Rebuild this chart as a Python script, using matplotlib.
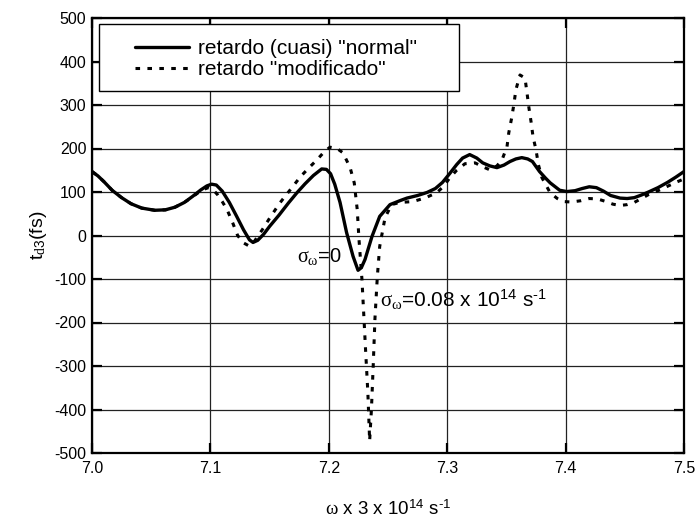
import matplotlib
matplotlib.use("Agg")
import matplotlib.pyplot as plt
from matplotlib.patches import Rectangle

plt.rcParams['font.family'] = ['Liberation Sans', 'DejaVu Sans']
plt.rcParams['mathtext.fontset'] = 'custom'
plt.rcParams['mathtext.rm'] = 'Liberation Sans'
plt.rcParams['mathtext.it'] = 'Liberation Serif'
plt.rcParams['mathtext.bf'] = 'Liberation Sans:bold'
plt.rcParams['axes.unicode_minus'] = False

# ---- data ----
x_normal = [7.000, 7.005, 7.010, 7.017, 7.025, 7.033, 7.042, 7.053, 7.062, 7.070,
            7.078, 7.085, 7.092, 7.097, 7.101, 7.105, 7.110, 7.116, 7.122, 7.128,
            7.133, 7.136, 7.140, 7.145, 7.150, 7.158, 7.166, 7.173, 7.180, 7.187,
            7.194, 7.198, 7.2015, 7.205, 7.2095, 7.215, 7.2205, 7.2247, 7.2275, 7.2306,
            7.2365, 7.243, 7.2517, 7.260, 7.266, 7.275, 7.283, 7.290, 7.296, 7.302,
            7.308, 7.313, 7.319, 7.325, 7.330, 7.336, 7.342, 7.348, 7.353, 7.358,
            7.363, 7.368, 7.372, 7.378, 7.383, 7.387, 7.395, 7.401, 7.408, 7.414,
            7.420, 7.426, 7.432, 7.438, 7.446, 7.452, 7.458, 7.464, 7.470, 7.478,
            7.486, 7.493, 7.500]
y_normal = [147, 137, 124, 104, 87, 73, 63, 58, 59, 65,
            76, 90, 105, 114, 118, 116, 102, 76, 45, 13,
            -10, -16, -11, 3, 21, 47, 75, 98, 119, 138,
            153, 152, 142, 118, 76, 7, -48, -80, -74, -55,
            -2, 44, 71, 80, 86, 92, 99, 108, 122, 142,
            163, 178, 186, 178, 167, 160, 156, 162, 170, 176,
            179, 176, 170, 147, 132, 121, 104, 101, 103, 108,
            112, 110, 102, 92, 86, 85, 87, 93, 100, 110,
            122, 134, 147]

x_mod = [7.000, 7.005, 7.010, 7.017, 7.025, 7.033, 7.042, 7.053, 7.062, 7.070,
         7.078, 7.085, 7.092, 7.098, 7.102, 7.106, 7.110, 7.114, 7.119, 7.123,
         7.128, 7.1326, 7.137, 7.144, 7.151, 7.159, 7.168, 7.176, 7.183, 7.190,
         7.196, 7.201, 7.207, 7.212, 7.218, 7.2215, 7.224, 7.2255, 7.228, 7.2295,
         7.231, 7.233, 7.2345, 7.236, 7.2375, 7.239, 7.241, 7.243, 7.2475, 7.253,
         7.260, 7.271, 7.281, 7.291, 7.297, 7.302, 7.308, 7.315, 7.3235, 7.330,
         7.336, 7.342, 7.3463, 7.3505, 7.352, 7.3545, 7.3565, 7.358, 7.3615, 7.3657,
         7.3674, 7.369, 7.3708, 7.3725, 7.375, 7.377, 7.380, 7.387, 7.393, 7.398,
         7.405, 7.413, 7.420, 7.427, 7.433, 7.440, 7.446, 7.452, 7.458, 7.464,
         7.470, 7.478, 7.486, 7.493, 7.500]
y_mod = [147, 137, 124, 104, 87, 73, 63, 58, 59, 65,
         76, 89, 103, 110, 106, 94, 78, 60, 28, 0,
         -17, -24, -14, 14, 44, 76, 107, 135, 155, 174,
         192, 203, 200, 190, 156, 121, 60, -9, -101, -180,
         -260, -362, -472, -400, -300, -190, -94, -25, 41, 71,
         76, 78, 86, 98, 113, 132, 150, 165, 167, 158,
         151, 160, 174, 204, 236, 271, 305, 335, 369, 362,
         328, 294, 262, 227, 197, 163, 133, 98, 85, 78,
         77, 80, 85, 84, 79, 72, 69, 71, 76, 85,
         94, 103, 113, 122, 130]

series_labels = ['retardo (cuasi) "normal"', 'retardo "modificado"']
x_ticks = [7.0, 7.1, 7.2, 7.3, 7.4, 7.5]
x_ticklabels = ['7.0', '7.1', '7.2', '7.3', '7.4', '7.5']
y_ticks = [-500, -400, -300, -200, -100, 0, 100, 200, 300, 400, 500]
y_ticklabels = ['-500', '-400', '-300', '-200', '-100', '0', '100', '200', '300', '400', '500']

fig = plt.figure(figsize=(6.95, 5.21), dpi=100)
ax = fig.add_axes([92/695, 1-453/521, (684-92)/695, (453-18)/521])

ax.plot(x_normal, y_normal, color='black', lw=2.4, solid_joinstyle='round',
        solid_capstyle='round', label=series_labels[0], zorder=3)
ax.plot(x_mod, y_mod, color='black', lw=2.2, linestyle=(0, (1.5, 2.4)),
        label=series_labels[1], zorder=3)

ax.set_xlim(7.0, 7.5)
ax.set_ylim(-500, 500)
ax.set_xticks(x_ticks)
ax.set_xticklabels(x_ticklabels)
ax.set_yticks(y_ticks)
ax.set_yticklabels(y_ticklabels)
ax.grid(True, color='#222222', lw=0.9)
ax.set_axisbelow(True)
for s in ax.spines.values():
    s.set_linewidth(1.6)
ax.tick_params(direction='in', length=7, width=1.6, labelsize=11.5,
               top=True, right=True, pad=4)
ax.tick_params(axis='x', pad=6)

ax.set_xlabel(r'$\omega$ x 3 x 10$^{14}$ s$^{\text{-}1}$', fontsize=13.5, labelpad=17)
ax.set_ylabel(r't$_{d3}$(fs)', fontsize=14, labelpad=4)

ax.text(7.173, -62, r'$\sigma_{\omega}$=0', fontsize=14.5, va='baseline', ha='left')
ax.text(7.243, -165, r'$\sigma_{\omega}$=0.08 x 10$^{14}$ s$^{\text{-}1}$', fontsize=15,
        va='baseline', ha='left')

# legend frame (drawn as a box) and frameless legend inside it
box = Rectangle((7/592, (453-91)/435), (459-99)/592, (91-24)/435,
                transform=ax.transAxes, facecolor='white', edgecolor='black',
                lw=1.0, zorder=4)
ax.add_patch(box)
leg = ax.legend(loc='upper left', bbox_to_anchor=((135-92)/592, (453-39)/435),
                fontsize=15, frameon=False, handlelength=2.6, handletextpad=0.43,
                borderpad=0, labelspacing=0.1, borderaxespad=0)
leg.set_zorder(5)

fig.savefig('out.png', dpi=100)
